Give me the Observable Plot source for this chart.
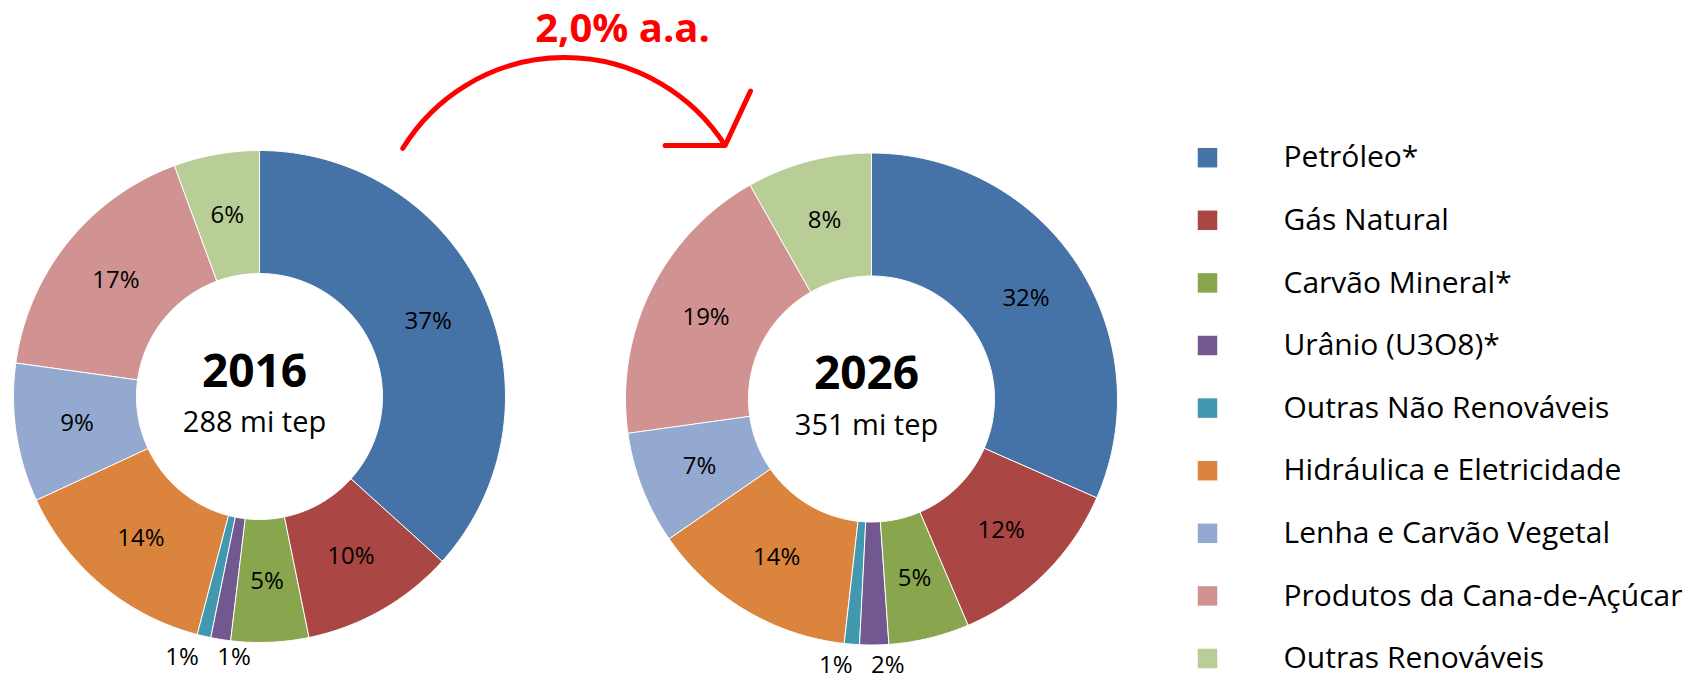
<!DOCTYPE html>
<html>
<head>
<meta charset="utf-8">
<script src="https://cdn.jsdelivr.net/npm/d3@7"></script>
<script src="https://cdn.jsdelivr.net/npm/@observablehq/plot@0.6"></script>
<style>
  html, body { margin: 0; padding: 0; background: #fff; }
  svg { display: block; }
</style>
</head>
<body>
<div id="chart"></div>
<script>
// ---------- DATA ----------
const categories = [
  "Petróleo*",
  "Gás Natural",
  "Carvão Mineral*",
  "Urânio (U3O8)*",
  "Outras Não Renováveis",
  "Hidráulica e Eletricidade",
  "Lenha e Carvão Vegetal",
  "Produtos da Cana-de-Açúcar",
  "Outras Renováveis"
];
const years = ["2016", "2026"];
const totals = [288, 351];              // mi tep
const shares2016 = [36.7, 10.1, 5.1, 1.3, 0.9, 14.0, 9.1, 17.2, 5.6];
const shares2026 = [31.6, 12.0, 5.3, 1.9, 1.0, 13.6, 7.4, 19.0, 8.2];
const growthLabel = "2,0% a.a.";
const colors = ["#4572A7", "#AA4643", "#89A54E", "#71588F", "#4198AF",
                "#DB843D", "#93A9CF", "#D19392", "#B9CD96"];

// ---------- LAYOUT ----------
const W = 1694, H = 683;
const R = 246, R0 = 123;
const centers = [{cx: 259, cy: 396}, {cx: 871, cy: 398.5}];
const legendX = 1207, legendTextX = 1283, legendTop = 157.2, legendStep = 62.6;
const font = "'Open Sans', sans-serif";

const sharesByYear = [shares2016, shares2026];
const polys = [], inside = [], outside = [], centerTitles = [], centerSubs = [];

years.forEach((yr, k) => {
  const {cx, cy} = centers[k];
  const vals = sharesByYear[k];
  const total = d3.sum(vals);
  let acc = 0;
  const small = [];
  vals.forEach((v, i) => {
    const a0 = acc / total * 2 * Math.PI;
    acc += v;
    const a1 = acc / total * 2 * Math.PI;
    const n = Math.max(2, Math.ceil((a1 - a0) / (Math.PI / 180)));
    const key = yr + "|" + categories[i];
    for (let j = 0; j <= n; j++) {
      const a = a0 + (a1 - a0) * j / n;
      polys.push({key, cat: categories[i], x: cx + R * Math.sin(a), y: cy - R * Math.cos(a)});
    }
    for (let j = n; j >= 0; j--) {
      const a = a0 + (a1 - a0) * j / n;
      polys.push({key, cat: categories[i], x: cx + R0 * Math.sin(a), y: cy - R0 * Math.cos(a)});
    }
    const pct = Math.round(v / total * 100);
    const mid = (a0 + a1) / 2;
    if (v / total >= 0.03) {
      const rm = (R + R0) / 2;
      inside.push({text: pct + "%", x: cx + rm * Math.sin(mid), y: cy - rm * Math.cos(mid)});
    } else {
      small.push({text: pct + "%", mid});
    }
  });
  // small slices: labels placed just outside the ring, spread apart
  if (small.length) {
    const avg = d3.mean(small, d => d.mid);
    const ro = R + 20;
    small.forEach((d, idx) => {
      const off = ((small.length - 1) / 2 - idx) * 52;
      outside.push({text: d.text, x: cx + ro * Math.sin(avg) + off, y: cy - ro * Math.cos(avg)});
    });
  }
  centerTitles.push({text: yr, x: cx - 5, y: cy - 24.7});
  centerSubs.push({text: totals[k] + " mi tep", x: cx - 5, y: cy + 26.7});
});

// arrow from upper-right of first donut to upper-left of second donut
const arrowData = [{
  x1: centers[0].cx + 1.165 * R * Math.sin(Math.PI / 6),
  y1: centers[0].cy - 1.165 * R * Math.cos(Math.PI / 6),
  x2: centers[1].cx - 1.19 * R * Math.sin(Math.PI / 6),
  y2: centers[1].cy - 1.19 * R * Math.cos(Math.PI / 6)
}];
const growthData = [{text: growthLabel, x: 622, y: 29}];

const legendRows = categories.map((c, i) => ({cat: c, x: legendX, tx: legendTextX, y: legendTop + i * legendStep}));

const chart = Plot.plot({
  width: W,
  height: H,
  margin: 0,
  x: {domain: [0, W], range: [0, W], axis: null},
  y: {domain: [0, H], range: [0, H], axis: null},
  color: {domain: categories, range: colors},
  style: {fontFamily: font, background: "#fff", color: "#000"},
  marks: [
    Plot.line(polys, {x: "x", y: "y", z: "key", fill: "cat", stroke: "#fff", strokeWidth: 1, curve: "linear-closed"}),
    Plot.text(inside, {x: "x", y: "y", text: "text", fontSize: 24, fill: "#000"}),
    Plot.text(outside, {x: "x", y: "y", text: "text", fontSize: 24, fill: "#000"}),
    Plot.text(centerTitles, {x: "x", y: "y", text: "text", fontSize: 46, fontWeight: "bold", fill: "#000"}),
    Plot.text(centerSubs, {x: "x", y: "y", text: "text", fontSize: 29, fill: "#000"}),
    Plot.arrow(arrowData, {x1: "x1", y1: "y1", x2: "x2", y2: "y2", bend: 58, stroke: "#f00", strokeWidth: 5, headLength: 18, headAngle: 115, strokeLinecap: "round", strokeLinejoin: "round"}),
    Plot.text(growthData, {x: "x", y: "y", text: "text", fontSize: 40, fontWeight: "bold", fill: "#f00"}),
    Plot.dot(legendRows, {x: "x", y: "y", fill: "cat", symbol: "square", r: 11}),
    Plot.text(legendRows, {x: "tx", y: "y", text: "cat", textAnchor: "start", fontSize: 30, fill: "#000"})
  ]
});
document.getElementById("chart").appendChild(chart);
</script>
</body>
</html>
